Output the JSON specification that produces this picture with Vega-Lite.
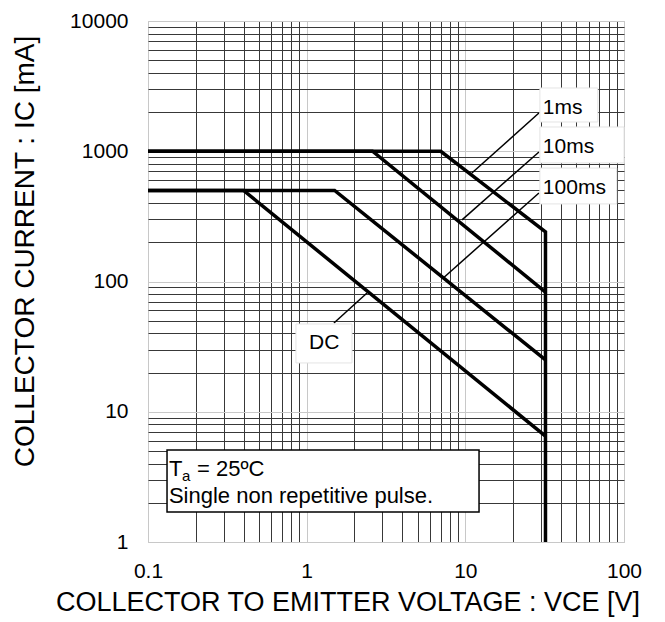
{
  "$schema": "https://vega.github.io/schema/vega-lite/v6.json",
  "width": 476,
  "height": 521,
  "autosize": {"type": "none"},
  "padding": {"left": 148, "top": 21, "right": 41, "bottom": 80},
  "background": "white",
  "config": {
    "view": {"stroke": "#bdbdbd", "strokeWidth": 1},
    "font": "Liberation Sans",
    "text": {"font": "Liberation Sans", "color": "black"}
  },
  "datasets": {
    "curves": [
      {"series": "1ms", "k": 0, "v": 0.1, "i": 1000},
      {"series": "1ms", "k": 1, "v": 7, "i": 1000},
      {"series": "1ms", "k": 2, "v": 32, "i": 240},
      {"series": "1ms", "k": 3, "v": 32, "i": 1},
      {"series": "10ms", "k": 0, "v": 0.1, "i": 1000},
      {"series": "10ms", "k": 1, "v": 2.6, "i": 1000},
      {"series": "10ms", "k": 2, "v": 32, "i": 83},
      {"series": "100ms", "k": 0, "v": 0.1, "i": 500},
      {"series": "100ms", "k": 1, "v": 1.5, "i": 500},
      {"series": "100ms", "k": 2, "v": 32, "i": 25},
      {"series": "DC", "k": 0, "v": 0.1, "i": 500},
      {"series": "DC", "k": 1, "v": 0.4, "i": 500},
      {"series": "DC", "k": 2, "v": 32, "i": 6.5}
    ],
    "leaders": [
      {"series": "1ms", "v": 29.1, "i": 1967, "v2": 11.0, "i2": 681},
      {"series": "10ms", "v": 29.1, "i": 986, "v2": 9.53, "i2": 297},
      {"series": "100ms", "v": 29.1, "i": 478, "v2": 7.23, "i2": 106},
      {"series": "DC", "v": 1.486, "i": 48, "v2": 2.4, "i2": 81.6}
    ],
    "boxes": [
      {"series": "1ms", "v": 29.5, "v2": 68.4, "i": 1678, "i2": 3060},
      {"series": "10ms", "v": 29.5, "v2": 100, "i": 813, "i2": 1536},
      {"series": "100ms", "v": 29.5, "v2": 90, "i": 394, "i2": 743},
      {"series": "DC", "v": 0.856, "v2": 1.93, "i": 23.7, "i2": 47.2}
    ],
    "labels": [
      {"t": "1ms", "v": 30.8, "i": 1932},
      {"t": "10ms", "v": 30.8, "i": 975},
      {"t": "100ms", "v": 30.8, "i": 467},
      {"t": "DC", "v": 1.034, "i": 30.2}
    ],
    "notebox": [
      {"v": 0.1318, "v2": 12.2, "i": 1.7, "i2": 5.09}
    ],
    "notes": [
      {"t": "T", "v": 0.1355, "i": 3.21},
      {"t": "= 25ºC", "v": 0.2036, "i": 3.21},
      {"t": "Single non repetitive pulse.", "v": 0.1355, "i": 1.992}
    ],
    "subs": [
      {"t": "a", "v": 0.1637, "i": 2.955}
    ]
  },
  "layer": [
    {
      "data": {"name": "curves"},
      "mark": {"type": "line", "color": "black", "strokeWidth": 3.5, "clip": true},
      "encoding": {
        "x": {
          "field": "v",
          "type": "quantitative",
          "scale": {"type": "log", "domain": [0.1, 100], "nice": false},
          "axis": {
            "title": "COLLECTOR TO EMITTER VOLTAGE : VCE [V]",
            "values": [0.1, 0.2, 0.3, 0.4, 0.5, 0.6, 0.7, 0.8, 0.9, 1, 2, 3, 4, 5, 6, 7, 8, 9, 10, 20, 30, 40, 50, 60, 70, 80, 90, 100],
            "labelExpr": "abs(log(datum.value)/LN10 - round(log(datum.value)/LN10)) < 0.001 ? format(datum.value, '~g') : ''",
            "grid": true,
            "gridColor": {"condition": {"test": "abs(log(datum.value)/LN10 - round(log(datum.value)/LN10)) < 0.001", "value": "#c8c8c8"}, "value": "#383838"},
            "gridWidth": 1,
            "ticks": false,
            "domain": false,
            "labelFontSize": 21,
            "labelPadding": 18,
            "labelFlush": false,
            "labelOverlap": false,
            "labelColor": "black",
            "labelFont": "Liberation Sans",
            "titleFont": "Liberation Sans",
            "titleFontSize": 27,
            "titleFontWeight": "normal",
            "titleColor": "black",
            "titleX": 199.5,
            "titleY": 68,
            "titleAlign": "center",
            "titleBaseline": "alphabetic"
          }
        },
        "y": {
          "field": "i",
          "type": "quantitative",
          "scale": {"type": "log", "domain": [1, 10000], "nice": false},
          "axis": {
            "title": "COLLECTOR CURRENT : IC [mA]",
            "values": [1, 2, 3, 4, 5, 6, 7, 8, 9, 10, 20, 30, 40, 50, 60, 70, 80, 90, 100, 200, 300, 400, 500, 600, 700, 800, 900, 1000, 2000, 3000, 4000, 5000, 6000, 7000, 8000, 9000, 10000],
            "labelExpr": "abs(log(datum.value)/LN10 - round(log(datum.value)/LN10)) < 0.001 ? format(datum.value, '~g') : ''",
            "grid": true,
            "gridColor": {"condition": {"test": "abs(log(datum.value)/LN10 - round(log(datum.value)/LN10)) < 0.001", "value": "#c8c8c8"}, "value": "#383838"},
            "gridWidth": 1,
            "ticks": false,
            "domain": false,
            "labelFontSize": 21,
            "labelPadding": 20,
            "labelFlush": false,
            "labelOverlap": false,
            "labelColor": "black",
            "labelFont": "Liberation Sans",
            "titleFont": "Liberation Sans",
            "titleFontSize": 28,
            "titleFontWeight": "normal",
            "titleColor": "black",
            "titleAngle": -90,
            "titleX": -115,
            "titleY": 230,
            "titleAlign": "center",
            "titleBaseline": "alphabetic"
          }
        },
        "detail": {"field": "series"},
        "order": {"field": "k"}
      }
    },
    {
      "data": {"name": "leaders"},
      "mark": {"type": "rule", "color": "black", "strokeWidth": 1.5},
      "encoding": {
        "x": {"field": "v", "type": "quantitative"},
        "y": {"field": "i", "type": "quantitative"},
        "x2": {"field": "v2"},
        "y2": {"field": "i2"}
      }
    },
    {
      "data": {"name": "boxes"},
      "mark": {"type": "rect", "fill": "white", "stroke": "#e4e4e4", "strokeWidth": 1},
      "encoding": {
        "x": {"field": "v", "type": "quantitative"},
        "x2": {"field": "v2"},
        "y": {"field": "i", "type": "quantitative"},
        "y2": {"field": "i2"}
      }
    },
    {
      "data": {"name": "notebox"},
      "mark": {"type": "rect", "fill": "white", "stroke": "black", "strokeWidth": 1.5},
      "encoding": {
        "x": {"field": "v", "type": "quantitative"},
        "x2": {"field": "v2"},
        "y": {"field": "i", "type": "quantitative"},
        "y2": {"field": "i2"}
      }
    },
    {
      "data": {"name": "labels"},
      "mark": {"type": "text", "align": "left", "baseline": "alphabetic", "fontSize": 21, "color": "black"},
      "encoding": {
        "x": {"field": "v", "type": "quantitative"},
        "y": {"field": "i", "type": "quantitative"},
        "text": {"field": "t"}
      }
    },
    {
      "data": {"name": "notes"},
      "mark": {"type": "text", "align": "left", "baseline": "alphabetic", "fontSize": 22, "color": "black"},
      "encoding": {
        "x": {"field": "v", "type": "quantitative"},
        "y": {"field": "i", "type": "quantitative"},
        "text": {"field": "t"}
      }
    },
    {
      "data": {"name": "subs"},
      "mark": {"type": "text", "align": "left", "baseline": "alphabetic", "fontSize": 15, "color": "black"},
      "encoding": {
        "x": {"field": "v", "type": "quantitative"},
        "y": {"field": "i", "type": "quantitative"},
        "text": {"field": "t"}
      }
    }
  ]
}
